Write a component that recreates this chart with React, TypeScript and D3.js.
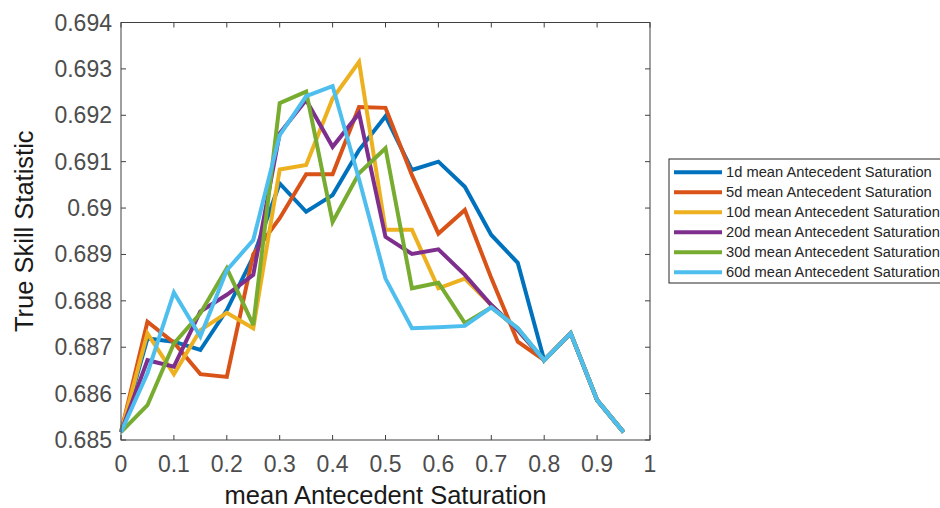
import React from "react";
import * as d3 from "d3";

const xValues = [0, 0.05, 0.1, 0.15, 0.2, 0.25, 0.3, 0.35, 0.4, 0.45, 0.5, 0.55, 0.6, 0.65, 0.7, 0.75, 0.8, 0.85, 0.9, 0.95];

const s1d = [0.68517, 0.68719, 0.68712, 0.68694, 0.6878, 0.68895, 0.69053, 0.68992, 0.69028, 0.69125, 0.69198, 0.69082, 0.691, 0.69046, 0.68942, 0.68882, 0.68672, 0.6873, 0.68586, 0.68517];
const s5d = [0.68517, 0.68755, 0.6871, 0.68642, 0.68636, 0.689, 0.68978, 0.69073, 0.69073, 0.69218, 0.69216, 0.69071, 0.68945, 0.68996, 0.68849, 0.68712, 0.68672, 0.6873, 0.68586, 0.68517];
const s10d = [0.68517, 0.6873, 0.68642, 0.68737, 0.68774, 0.68741, 0.69083, 0.69093, 0.69236, 0.69315, 0.68953, 0.68953, 0.68827, 0.68848, 0.68791, 0.68737, 0.68672, 0.6873, 0.68586, 0.68517];
const s20d = [0.68517, 0.68672, 0.68658, 0.68777, 0.68813, 0.68856, 0.69161, 0.69233, 0.69132, 0.69204, 0.68938, 0.68901, 0.68911, 0.68856, 0.68791, 0.68737, 0.68672, 0.6873, 0.68586, 0.68517];
const s30d = [0.68517, 0.68575, 0.68708, 0.68773, 0.6887, 0.68748, 0.69226, 0.69251, 0.6897, 0.69075, 0.69129, 0.68827, 0.68839, 0.68752, 0.68786, 0.68741, 0.68672, 0.6873, 0.68586, 0.68517];
const s60d = [0.68517, 0.68644, 0.68818, 0.68723, 0.68866, 0.68931, 0.69157, 0.69241, 0.69263, 0.69062, 0.68848, 0.68741, 0.68743, 0.68746, 0.68786, 0.68741, 0.68672, 0.6873, 0.68586, 0.68517];

const seriesNames = [
  "1d mean Antecedent Saturation",
  "5d mean Antecedent Saturation",
  "10d mean Antecedent Saturation",
  "20d mean Antecedent Saturation",
  "30d mean Antecedent Saturation",
  "60d mean Antecedent Saturation",
];
const seriesValues = [s1d, s5d, s10d, s20d, s30d, s60d];
const colors = ["#0072BD", "#D95319", "#EDB120", "#7E2F8E", "#77AC30", "#4DBEEE"];

const xTicks = [0, 0.1, 0.2, 0.3, 0.4, 0.5, 0.6, 0.7, 0.8, 0.9, 1];
const yTicks = [0.685, 0.686, 0.687, 0.688, 0.689, 0.69, 0.691, 0.692, 0.693, 0.694];

const xLabel = "mean Antecedent Saturation";
const yLabel = "True Skill Statistic";

export default function App() {
  const W = 940, H = 508;
  const left = 121, right = 650, top = 22.5, bottom = 440;
  const x = d3.scaleLinear().domain([0, 1]).range([left, right]);
  const y = d3.scaleLinear().domain([0.685, 0.694]).range([bottom, top]);
  const line = d3.line<number>().x((_, i) => x(xValues[i])).y((d) => y(d));
  const fx = d3.format("~g");
  const fy = d3.format(".3~f");
  const axisColor = "#404040";
  const tickLen = 5;
  const font = "Liberation Sans, Arial, Helvetica, sans-serif";

  const legX = 669, legTop = 159, legBottom = 283;
  const rowY0 = 172.3, rowStep = 20;

  return (
    <svg width={W} height={H} style={{ position: "absolute", left: 0, top: 0, background: "#fff" }} fontFamily={font}>
      <rect x={0} y={0} width={W} height={H} fill="#fff" />
      {xTicks.map((t) => (
        <g key={"xt" + t}>
          <line x1={x(t)} x2={x(t)} y1={bottom} y2={bottom - tickLen} stroke={axisColor} strokeWidth={1} />
          <line x1={x(t)} x2={x(t)} y1={top} y2={top + tickLen} stroke={axisColor} strokeWidth={1} />
          <text x={x(t)} y={472} textAnchor="middle" fontSize={23} fill="#4d4d4d">{fx(t)}</text>
        </g>
      ))}
      {yTicks.map((t) => (
        <g key={"yt" + t}>
          <line x1={left} x2={left + tickLen} y1={y(t)} y2={y(t)} stroke={axisColor} strokeWidth={1} />
          <line x1={right} x2={right - tickLen} y1={y(t)} y2={y(t)} stroke={axisColor} strokeWidth={1} />
          <text x={112} y={y(t) + 8} textAnchor="end" fontSize={23} fill="#4d4d4d">{fy(t)}</text>
        </g>
      ))}
      {seriesValues.map((vals, i) => (
        <path key={"s" + i} d={line(vals) || ""} fill="none" stroke={colors[i]} strokeWidth={4} strokeLinejoin="miter" strokeMiterlimit={3} />
      ))}
      <rect x={left} y={top} width={right - left} height={bottom - top} fill="none" stroke={axisColor} strokeWidth={1} />
      <text x={(left + right) / 2} y={504} textAnchor="middle" fontSize={25.5} fill="#1a1a1a">{xLabel}</text>
      <text transform={`translate(33,${(top + bottom) / 2}) rotate(-90)`} textAnchor="middle" fontSize={25.5} fill="#1a1a1a">{yLabel}</text>
      <rect x={legX} y={legTop} width={W - legX + 10} height={legBottom - legTop} fill="#fff" stroke="#262626" strokeWidth={1} />
      {seriesNames.map((n, i) => (
        <g key={"l" + i}>
          <line x1={674} x2={722} y1={rowY0 + i * rowStep} y2={rowY0 + i * rowStep} stroke={colors[i]} strokeWidth={4} />
          <text x={726} y={rowY0 + i * rowStep + 5} fontSize={14.7} fill="#262626">{n}</text>
        </g>
      ))}
    </svg>
  );
}
